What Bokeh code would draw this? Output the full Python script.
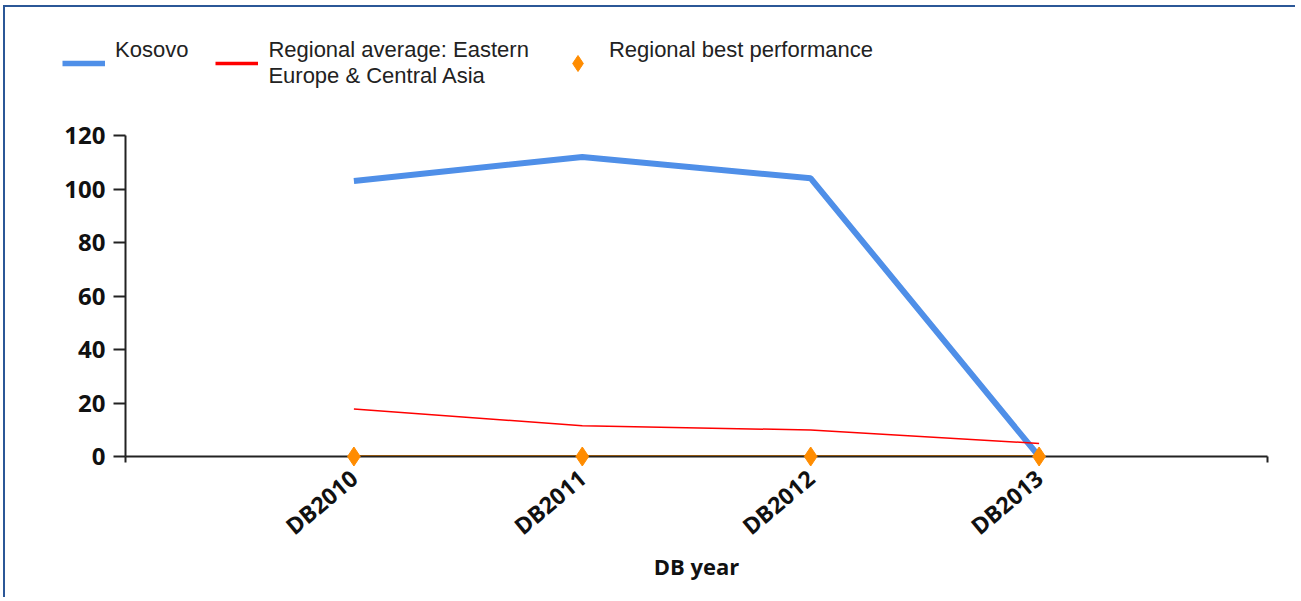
from math import radians
from bokeh.plotting import figure
from bokeh.layouts import column
from bokeh.models import Range1d, FixedTicker, Legend, LegendItem
from bokeh.embed import file_html
from bokeh.resources import INLINE

years = ["DB2010", "DB2011", "DB2012", "DB2013"]
kosovo = [103, 112, 104, 0]
regional_avg = [17.8, 11.5, 9.9, 4.9]
regional_best = [0, 0, 0, 0]
y_ticks = [0, 20, 40, 60, 80, 100, 120]
series_names = ["Kosovo", "Regional average: Eastern\nEurope & Central Asia",
                "Regional best performance"]

BLUE, RED, ORANGE = "#4F8FE8", "#FF0000", "#FF8C00"
x = list(range(len(years)))

# ---- legend strip (top); its renderers hold the series but lie outside the strip's view ----
pl = figure(width=1290, height=110, output_backend="svg", toolbar_location=None,
            x_range=Range1d(-1, len(years)), y_range=Range1d(-300, -200),
            min_border_left=0, min_border_right=0, min_border_top=0, min_border_bottom=0,
            x_axis_type=None, y_axis_type=None)
pl.frame_align = False
pl.grid.visible = False
pl.outline_line_color = None
lk = pl.line(x, kosovo, line_color=BLUE, line_width=5.5)
la = pl.line(x, regional_avg, line_color=RED, line_width=3.5)
lb = pl.scatter(x, regional_best, marker="diamond", size=18, fill_color=ORANGE, line_color=ORANGE)
legend = Legend(items=[
    LegendItem(label=series_names[0] + "\n ", renderers=[lk]),
    LegendItem(label=series_names[1], renderers=[la]),
    LegendItem(label=series_names[2] + "\n ", renderers=[lb]),
], orientation="horizontal", location=(57, 28), border_line_color=None,
    background_fill_alpha=0, label_text_font="Liberation Sans", label_text_font_size="22px",
    label_text_color="#222222", glyph_width=43, glyph_height=40, label_standoff=10,
    spacing=27, padding=0, margin=0)
pl.add_layout(legend, "center")

# ---- main chart ----
p = figure(width=1290, height=480, output_backend="svg", toolbar_location=None,
           x_range=Range1d(-1, len(years)), y_range=Range1d(0, 120),
           min_border_left=120, min_border_right=28, min_border_top=18, min_border_bottom=141)
p.grid.visible = False
p.outline_line_color = None

p.line(x, regional_best, line_color=ORANGE, line_width=3)
p.line(x, kosovo, line_color=BLUE, line_width=6)
p.line(x, regional_avg, line_color=RED, line_width=1.5)
p.scatter(x, regional_best, marker="diamond", size=19, fill_color=ORANGE,
          line_color=ORANGE, level="overlay")

xa = p.xaxis[0]
ticks_x = [-1] + x + [len(years)]
xa.ticker = FixedTicker(ticks=ticks_x)
overrides = {t: "" for t in ticks_x}
overrides.update({i: y for i, y in enumerate(years)})
xa.major_label_overrides = overrides
xa.major_label_orientation = radians(40)
xa.major_label_text_font = "Open Sans"
xa.major_label_text_font_style = "bold"
xa.major_label_text_font_size = "23px"
xa.major_label_text_color = "#111111"
xa.major_label_standoff = 12
xa.major_tick_in = 0
xa.major_tick_out = 6
xa.minor_tick_out = 0
xa.minor_tick_in = 0
xa.axis_line_width = 2
xa.axis_line_color = "#222222"
xa.major_tick_line_width = 2
xa.major_tick_line_color = "#222222"
xa.axis_label = "DB year"
xa.axis_label_text_font = "Open Sans"
xa.axis_label_text_font_style = "bold"
xa.axis_label_text_font_size = "22px"
xa.axis_label_text_color = "#111111"
xa.axis_label_standoff = -6

ya = p.yaxis[0]
ya.ticker = FixedTicker(ticks=y_ticks)
ya.major_label_text_font = "Open Sans"
ya.major_label_text_font_style = "bold"
ya.major_label_text_font_size = "24px"
ya.major_label_text_color = "#111111"
ya.major_label_standoff = 8
ya.major_tick_in = 0
ya.major_tick_out = 12
ya.minor_tick_out = 0
ya.minor_tick_in = 0
ya.axis_line_width = 2
ya.axis_line_color = "#222222"
ya.major_tick_line_width = 2
ya.major_tick_line_color = "#222222"

layout = column(pl, p, spacing=0)
layout.styles = {"border-top": "2px solid #2B5797", "border-left": "2px solid #2B5797",
                 "margin-top": "5px", "margin-left": "3px"}

open("out.html", "w").write(file_html(layout, INLINE))
